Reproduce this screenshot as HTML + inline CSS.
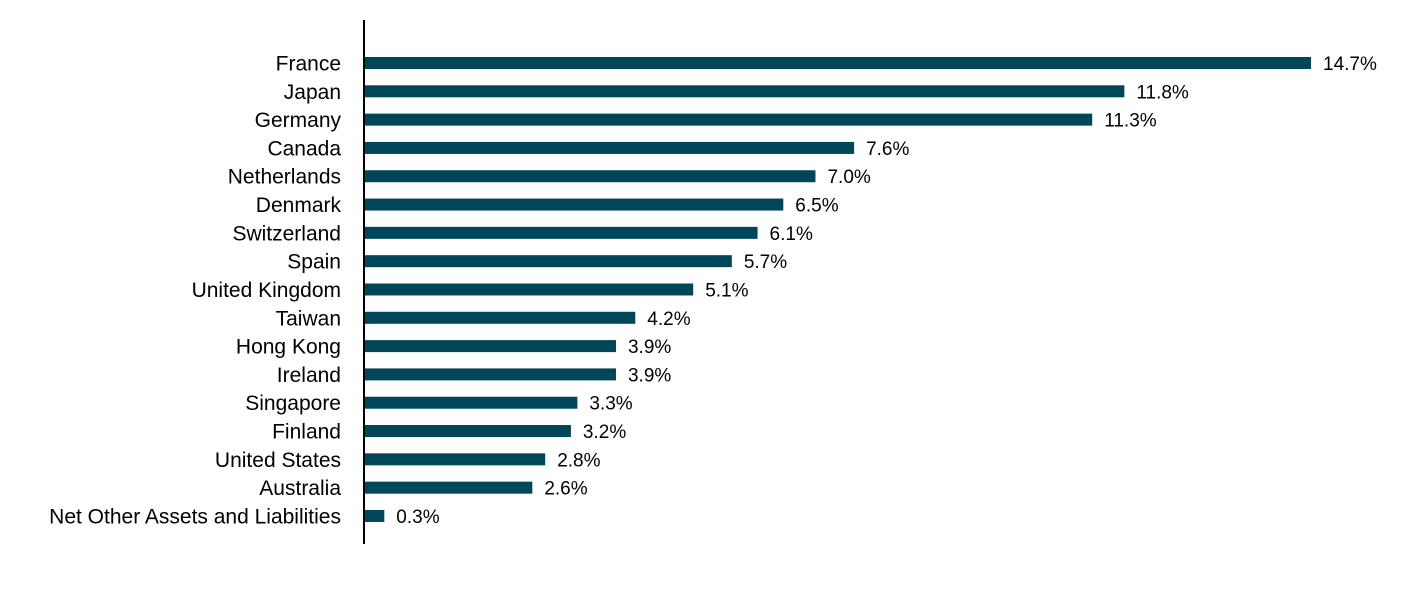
<!DOCTYPE html>
<html><head><meta charset="utf-8"><style>
body{margin:0;background:#fff;}
svg text{font-family:"Liberation Sans",Arial,sans-serif;}
</style></head><body>
<svg id="chart" width="1428" height="610" xmlns="http://www.w3.org/2000/svg">
<g id="bars"></g>
<line x1="364" y1="20" x2="364" y2="544" stroke="#000" stroke-width="2"/>
</svg>
<script>
const categories=["France","Japan","Germany","Canada","Netherlands","Denmark","Switzerland","Spain","United Kingdom","Taiwan","Hong Kong","Ireland","Singapore","Finland","United States","Australia","Net Other Assets and Liabilities"];
const values=[14.7,11.8,11.3,7.6,7.0,6.5,6.1,5.7,5.1,4.2,3.9,3.9,3.3,3.2,2.8,2.6,0.3];
const valueLabels=["14.7%","11.8%","11.3%","7.6%","7.0%","6.5%","6.1%","5.7%","5.1%","4.2%","3.9%","3.9%","3.3%","3.2%","2.8%","2.6%","0.3%"];
const x0=365, pxPer=(1311-365)/14.7;
function xScale(v){return x0+v*pxPer;}
function yScale(i){return 63+i*28.31;}
const ns="http://www.w3.org/2000/svg";
const g=document.getElementById('bars');
categories.forEach((c,i)=>{
  const y=yScale(i);
  const r=document.createElementNS(ns,'rect');
  
  
  r.setAttribute('x',x0);r.setAttribute('y',y-6);
  r.setAttribute('width',xScale(values[i])-x0);r.setAttribute('height',12);
  r.setAttribute('fill','#00465a');
  g.appendChild(r);
  const t=document.createElementNS(ns,'text');
  
  
  t.setAttribute('x',341);t.setAttribute('y',y+7.5);
  t.setAttribute('text-anchor','end');t.setAttribute('font-size','21');
  t.textContent=c;g.appendChild(t);
  const v=document.createElementNS(ns,'text');
  
  
  v.setAttribute('x',xScale(values[i])+12);v.setAttribute('y',y+7);
  v.setAttribute('font-size','19');
  v.textContent=valueLabels[i];g.appendChild(v);
});
</script>
</body></html>
